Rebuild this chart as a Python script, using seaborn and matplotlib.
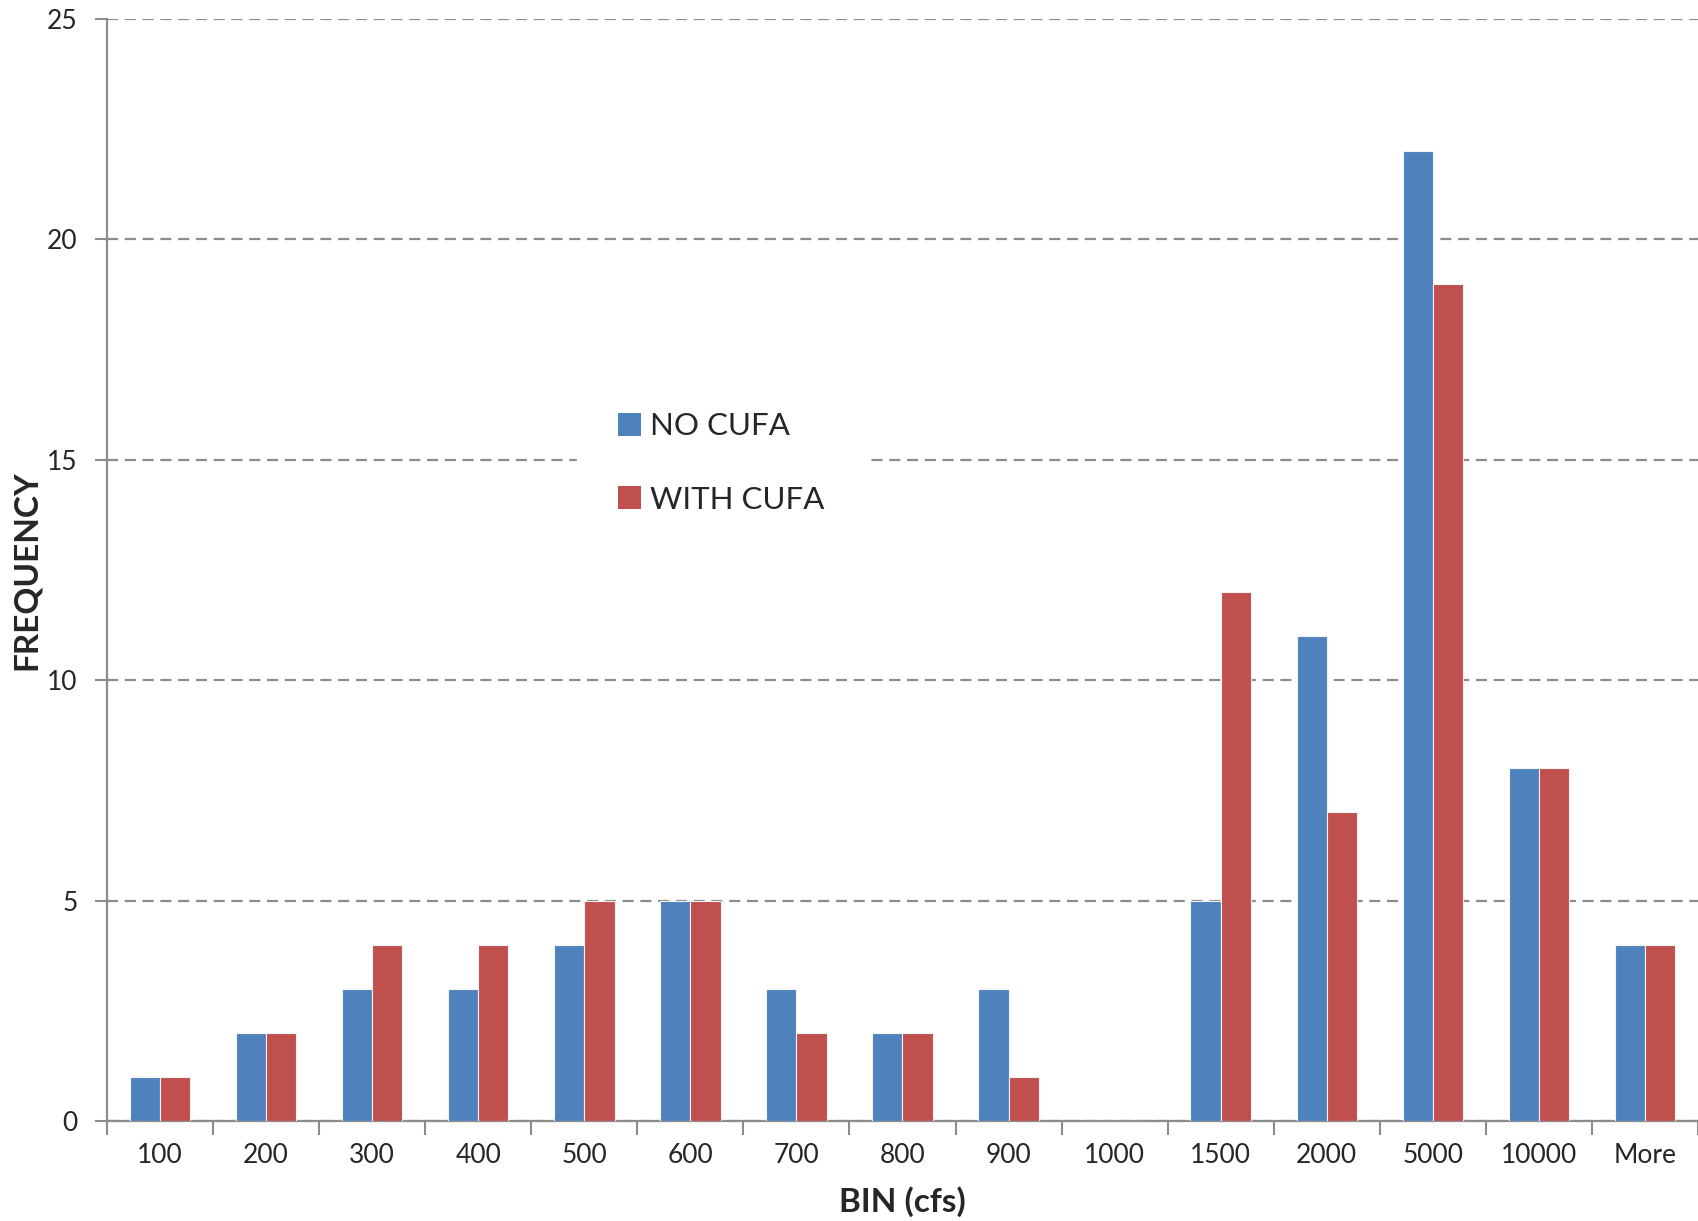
import matplotlib
matplotlib.use("Agg")
import matplotlib.pyplot as plt
import seaborn as sns
import pandas as pd
import numpy as np
from matplotlib.ticker import FixedLocator

# Flow bins (cfs) and counts per bin
bins = ["100", "200", "300", "400", "500", "600", "700", "800", "900",
        "1000", "1500", "2000", "5000", "10000", "More"]
no_cufa = [1, 2, 3, 3, 4, 5, 3, 2, 3, 0, 5, 11, 22, 8, 4]
with_cufa = [1, 2, 4, 4, 5, 5, 2, 2, 1, 0, 12, 7, 19, 8, 4]
series_names = ["NO CUFA", "WITH CUFA"]
y_ticks = [0, 5, 10, 15, 20, 25]

df = pd.DataFrame({
    "bin": bins * 2,
    "freq": no_cufa + with_cufa,
    "series": [series_names[0]] * len(bins) + [series_names[1]] * len(bins),
})

sns.set_theme(style="white")
plt.rcParams["font.family"] = ["Lato", "DejaVu Sans"]

fig = plt.figure(figsize=(16.98, 12.21), dpi=100)
ax = fig.add_axes([0.063, 0.0819, 0.937, 0.9025])

palette = {"NO CUFA": "#4F81BD", "WITH CUFA": "#C0504D"}
sns.barplot(data=df, x="bin", y="freq", hue="series", order=bins,
            hue_order=series_names, palette=palette, width=0.57,
            edgecolor="#f2f2f2", linewidth=0.8, saturation=1,
            errorbar=None, ax=ax, zorder=3)

ax.set_xlim(-0.5, len(bins) - 0.5)
ax.set_ylim(0, 25)
ax.set_yticks(y_ticks)
ax.set_yticklabels([str(v) for v in y_ticks], fontsize=19)
ax.yaxis.grid(True, linestyle=(0, (5, 3)), color="#8c8c8c", linewidth=1.6, zorder=0)
ax.set_axisbelow(True)

# category tick marks sit between groups
ax.tick_params(axis="x", which="major", length=0, pad=16, labelsize=19)
ax.xaxis.set_minor_locator(FixedLocator(np.arange(-0.5, len(bins), 1.0)))
ax.tick_params(axis="x", which="minor", bottom=True, length=10, width=1.5, color="#8c8c8c")
ax.tick_params(axis="y", which="major", left=True, length=9, width=1.5, color="#8c8c8c", pad=12)

for s in ["top", "right"]:
    ax.spines[s].set_visible(False)
for s in ["left", "bottom"]:
    ax.spines[s].set_color("#8c8c8c")
    ax.spines[s].set_linewidth(1.6)

ax.set_xlabel("BIN (cfs)", fontsize=24, fontweight="bold")
ax.set_ylabel("FREQUENCY", fontsize=24, fontweight="bold")
ax.xaxis.set_label_coords(0.5, -0.0735)
ax.yaxis.set_label_coords(-0.0505, 0.5)
ax.xaxis.label.set_va("center")
ax.yaxis.label.set_va("center")

leg = ax.legend(loc="center", bbox_to_anchor=(0.386, 0.597), fontsize=22.5,
                frameon=True, facecolor="white", edgecolor="white",
                framealpha=1, fancybox=False, handlelength=0.75,
                handleheight=0.75, handletextpad=0.3, labelspacing=1.45,
                borderpad=1.3)
for h in leg.legend_handles:
    h.set_edgecolor("none")

fig.savefig("out.png", dpi=100, facecolor="white")
